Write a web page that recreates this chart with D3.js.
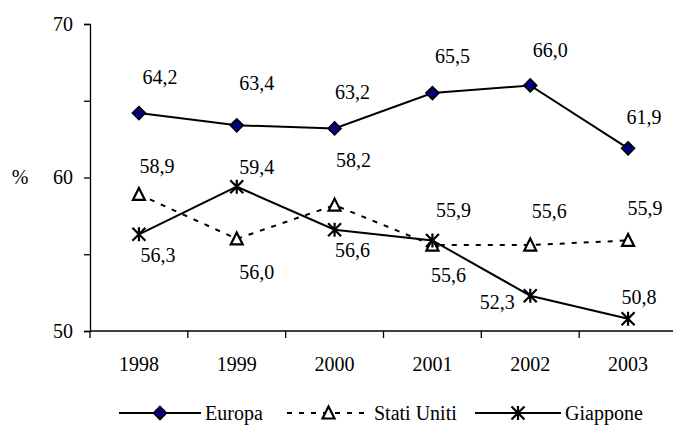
<!DOCTYPE html>
<html>
<head>
<meta charset="utf-8">
<script src="https://cdn.jsdelivr.net/npm/d3@7"></script>
<style>
  html, body { margin: 0; padding: 0; background: #fff; }
  svg { display: block; }
</style>
</head>
<body>
<svg id="chart" width="673" height="425" font-family="Liberation Serif"></svg>
<script>
// Years on the category axis
const years = ["1998", "1999", "2000", "2001", "2002", "2003"];

// Series values (%)
const europa     = [64.2, 63.4, 63.2, 65.5, 66.0, 61.9];
const statiUniti = [58.9, 56.0, 58.2, 55.6, 55.6, 55.9];
const giappone   = [56.3, 59.4, 56.6, 55.9, 52.3, 50.8];

// Value axis ticks
const yTicks = [50, 55, 60, 65, 70];
const yTickLabels = ["50", "", "60", "", "70"];

// Value label placement relative to each marker [dx, dy]
const europaLabelNudge     = [[21,-36],[20,-42],[18,-36],[20,-37],[20,-35],[16,-31]];
const statiUnitiLabelNudge = [[18,-28],[20,33],[19,-45],[16,30],[19,-34],[17,-32]];
const giapponeLabelNudge   = [[19,21],[20,-20],[18,20],[21,-30],[-33,6],[11,-22]];

const FONT = "Liberation Serif";
const svg = d3.select("#chart");
const fmt = v => d3.format(".1f")(v).replace(".", ",");

const x = d3.scaleBand().domain(years).range([90, 677]);
const y = d3.scaleLinear().domain([50, 70]).range([331, 24]);
const cx = d => x(d) + x.bandwidth() / 2;

// Value axis
const yAxis = d3.axisLeft(y).tickValues(yTicks)
  .tickFormat((d, i) => yTickLabels[i]).tickSize(6).tickPadding(11);
const gy = svg.append("g").attr("transform", "translate(90,0)").call(yAxis);
gy.attr("font-family", FONT).attr("font-size", 20);
gy.select(".domain").attr("stroke", "#000").attr("stroke-width", 1.3);
gy.selectAll(".tick line").attr("stroke", "#000").attr("stroke-width", 1.3);
gy.selectAll(".tick text").attr("font-family", FONT).attr("font-size", 20).attr("fill", "#000");

svg.append("text").attr("x", 20).attr("y", 177).attr("dy", "0.35em")
  .attr("text-anchor", "middle").attr("font-family", FONT).attr("font-size", 20).text("%");

// Category axis with ticks on category boundaries
const boundaries = d3.range(years.length + 1).map(i => 90 + i * x.step());
const gx = svg.append("g");
gx.append("line").attr("x1", 90).attr("x2", 673).attr("y1", 331).attr("y2", 331)
  .attr("stroke", "#000").attr("stroke-width", 1.3);
gx.selectAll("line.tk").data(boundaries).join("line").attr("class", "tk")
  .attr("x1", d => d).attr("x2", d => d).attr("y1", 331).attr("y2", 338)
  .attr("stroke", "#000").attr("stroke-width", 1.3);
gx.selectAll("text").data(years).join("text")
  .attr("x", d => cx(d)).attr("y", 364).attr("dy", "0.35em")
  .attr("text-anchor", "middle").attr("font-family", FONT).attr("font-size", 20).text(d => d);

const series = [
  { name: "Europa", values: europa, nudge: europaLabelNudge, dash: null, marker: "diamond" },
  { name: "Stati Uniti", values: statiUniti, nudge: statiUnitiLabelNudge, dash: "5,7", marker: "triangle" },
  { name: "Giappone", values: giappone, nudge: giapponeLabelNudge, dash: null, marker: "star" }
];

function drawMarker(g, type, px, py) {
  if (type === "diamond") {
    g.append("path").attr("d", `M${px},${py-6.5}L${px+6.5},${py}L${px},${py+6.5}L${px-6.5},${py}Z`)
      .attr("fill", "#000080").attr("stroke", "#000").attr("stroke-width", 1.6);
  } else if (type === "triangle") {
    g.append("path").attr("d", `M${px},${py-6.5}L${px+6},${py+5.5}L${px-6},${py+5.5}Z`)
      .attr("fill", "#fff").attr("stroke", "#000").attr("stroke-width", 2.2);
  } else {
    const r = 6.5;
    g.append("path")
      .attr("d", `M${px-r},${py-r}L${px+r},${py+r}M${px-r},${py+r}L${px+r},${py-r}M${px},${py-r-0.5}L${px},${py+r+0.5}`)
      .attr("stroke", "#000").attr("stroke-width", 2.2).attr("fill", "none");
  }
}

const line = d3.line().x((d, i) => cx(years[i])).y(d => y(d));

series.forEach(s => {
  const g = svg.append("g");
  g.append("path").datum(s.values).attr("d", line)
    .attr("fill", "none").attr("stroke", "#000").attr("stroke-width", 2)
    .attr("stroke-dasharray", s.dash);
  s.values.forEach((v, i) => drawMarker(g, s.marker, cx(years[i]), y(v)));
  g.selectAll("text").data(s.values).join("text")
    .attr("x", (d, i) => cx(years[i]) + s.nudge[i][0])
    .attr("y", (d, i) => y(d) + s.nudge[i][1])
    .attr("dy", "0.35em").attr("text-anchor", "middle")
    .attr("font-family", FONT).attr("font-size", 20)
    .text(d => fmt(d));
});

// Legend
const legendItems = [
  { s: series[0], x0: 119, x1: 201 },
  { s: series[1], x0: 287, x1: 370 },
  { s: series[2], x0: 475, x1: 561 }
];
const ly = 413;
legendItems.forEach(it => {
  const g = svg.append("g");
  g.append("line").attr("x1", it.x0).attr("x2", it.x1).attr("y1", ly).attr("y2", ly)
    .attr("stroke", "#000").attr("stroke-width", 2).attr("stroke-dasharray", it.s.dash);
  drawMarker(g, it.s.marker, (it.x0 + it.x1) / 2, ly);
  g.append("text").attr("x", it.x1 + 4).attr("y", ly).attr("dy", "0.35em")
    .attr("font-family", FONT).attr("font-size", 20).text(it.s.name);
});
</script>
</body>
</html>
